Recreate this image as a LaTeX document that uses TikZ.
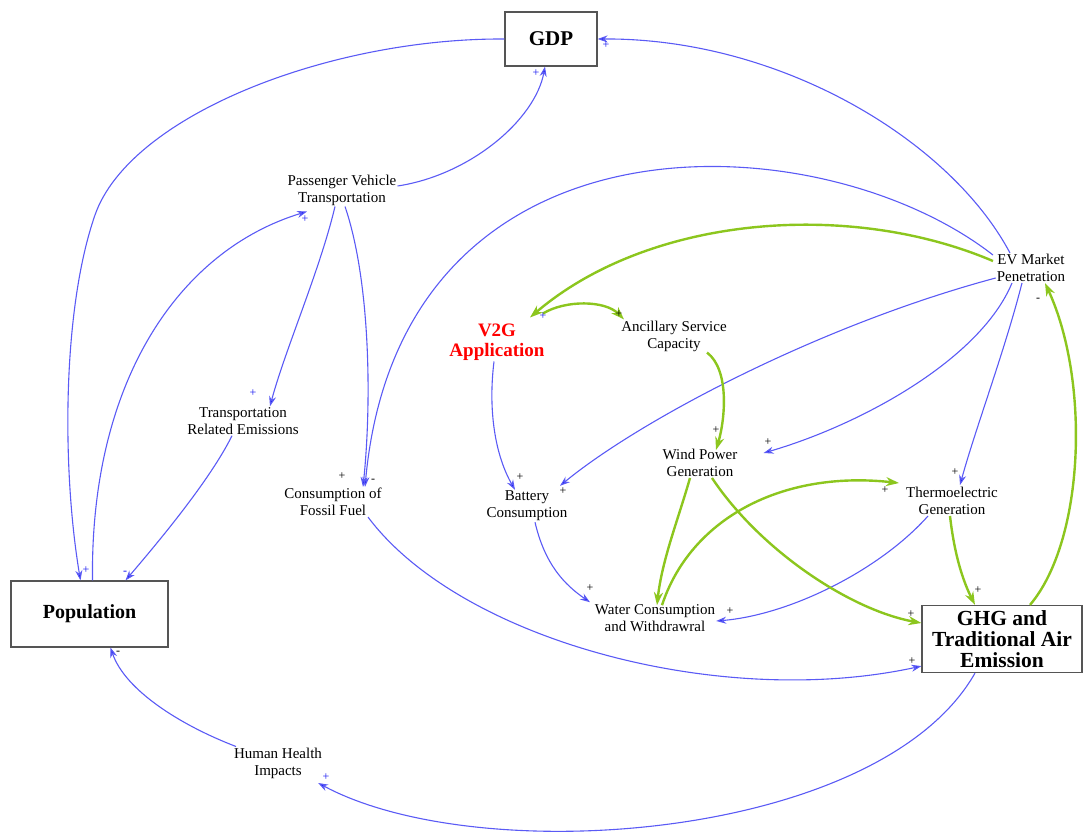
\documentclass[tikz,border=0pt]{standalone}
\usepackage{fontspec}
\setmainfont{Liberation Serif}
\usetikzlibrary{arrows.meta}
\definecolor{lnblue}{RGB}{90,90,245}
\definecolor{tipblue}{RGB}{20,20,240}
\definecolor{lngreen}{RGB}{140,198,30}
\definecolor{boxgray}{RGB}{85,85,85}
\tikzset{
  var/.style={align=center,inner sep=1pt,font=\fontsize{15}{17}\selectfont},
  stock/.style={draw=boxgray,line width=1.2pt,align=center,inner sep=0pt,font=\bfseries\fontsize{20}{21}\selectfont},
  blink/.style={draw=lnblue,line width=1.1pt,-{Stealth[length=10pt,width=7pt,fill=tipblue]}},
  glink/.style={draw=lngreen,line width=2.4pt,-{Stealth[length=13pt,width=9pt]}},
  pol/.style={inner sep=0pt,font=\fontsize{12}{12}\selectfont},
  bpol/.style={pol,text=tipblue}
}
\begin{document}
\begin{tikzpicture}[x=1pt,y=-1pt]
\useasboundingbox (0,0) rectangle (1088,836);
% stocks
\node[stock,minimum width=92pt,minimum height=54pt,font=\bfseries\fontsize{21}{22}\selectfont] (gdp) at (551,39) {GDP};
\node[stock,minimum width=157pt,minimum height=66pt] (pop) at (89.5,614) {Population};
\node[stock,minimum width=160pt,minimum height=67pt,font=\bfseries\fontsize{21.5}{21}\selectfont] (ghg) at (1002,639) {GHG and\\Traditional Air\\Emission};
% variables
\node[var] (pv) at (342,190) {Passenger Vehicle\\Transportation};
\node[var] (tre) at (243,421) {Transportation\\Related Emissions};
\node[var] (ff) at (333,502) {Consumption of\\Fossil Fuel};
\node[var,text=red,font=\bfseries\fontsize{19}{20}\selectfont] (v2g) at (497,342) {V2G\\Application};
\node[var] (anc) at (674,336) {Ancillary Service\\Capacity};
\node[var] (ev) at (1031,268) {EV Market\\Penetration};
\node[var] (wind) at (700,463) {Wind Power\\Generation};
\node[var] (bat) at (527,506) {Battery\\Consumption};
\node[var] (thermo) at (952,501) {Thermoelectric\\Generation};
\node[var] (water) at (655,618) {Water Consumption\\and Withdrawral};
\node[var] (hh) at (278,763) {Human Health\\Impacts};
% blue links
\draw[blink] (gdp.west) .. controls (330,38) and (130,115) .. (95,215) .. controls (62,310) and (62,470) .. ([xshift=-9pt]pop.north);
\draw[blink] ([xshift=3pt]pop.north) .. controls (90,380) and (180,250) .. ([xshift=-35pt,yshift=-5pt]pv.south);
\draw[blink] ([yshift=4pt]pv.east) .. controls (470,175) and (535,120) .. ([xshift=-6pt]gdp.south);
\draw[blink] ([xshift=-7pt]pv.south) .. controls (320,270) and (285,350) .. ([xshift=27pt]tre.north);
\draw[blink] ([xshift=3pt]pv.south) .. controls (370,280) and (372,400) .. ([xshift=30pt]ff.north);
\draw[blink] ([xshift=-11pt]tre.south) .. controls (210,480) and (160,540) .. ([xshift=36pt]pop.north);
\draw[blink] ([xshift=-38pt,yshift=-2pt]ev.north) .. controls (820,120) and (400,100) .. ([xshift=32pt]ff.north);
\draw[blink] ([xshift=-21pt]ev.north) .. controls (950,140) and (780,38) .. (gdp.east);
\draw[blink] ([yshift=-10pt]ev.west) .. controls (820,325) and (640,420) .. ([xshift=33pt,yshift=4pt]bat.north);
\draw[blink] ([xshift=-19pt]ev.south) .. controls (980,360) and (860,425) .. ([xshift=25pt,yshift=10pt]wind.east);
\draw[blink] ([xshift=-9pt]ev.south) .. controls (1005,350) and (975,430) .. ([xshift=8pt,yshift=1pt]thermo.north);
\draw[blink] ([xshift=-3pt]v2g.south) .. controls (488,410) and (495,455) .. ([xshift=-12pt]bat.north);
\draw[blink] ([xshift=8pt]bat.south) .. controls (545,565) and (565,585) .. ([xshift=-65pt,yshift=1pt]water.north);
\draw[blink] ([xshift=-24pt]thermo.south) .. controls (880,570) and (790,615) .. ([yshift=-3pt]water.east);
\draw[blink] ([xshift=35pt]ff.south) .. controls (460,640) and (720,710) .. ([yshift=7pt]ghg.south west);
\draw[blink] ([xshift=-27pt]ghg.south) .. controls (880,840) and (480,870) .. ([xshift=-5pt,yshift=-20pt]hh.east);
\draw[blink] ([xshift=-42pt]hh.north) .. controls (180,725) and (125,690) .. ([xshift=21pt]pop.south);
% green links
\draw[glink] ([xshift=-38pt,yshift=-8pt]ev.north) .. controls (850,200) and (650,215) .. ([xshift=33pt,yshift=5pt]v2g.north);
\draw[glink] ([xshift=46pt,yshift=9pt]v2g.north) .. controls (565,300) and (605,300) .. ([xshift=-50pt]anc.north);
\draw[glink] ([xshift=33pt]anc.south) .. controls (730,370) and (725,420) .. ([xshift=16pt,yshift=-2pt]wind.north);
\draw[glink] ([xshift=-10pt]wind.south) .. controls (678,520) and (662,560) .. ([xshift=2pt,yshift=-2pt]water.north);
\draw[glink] ([xshift=12pt]wind.south) .. controls (760,550) and (850,610) .. ([yshift=16pt]ghg.west);
\draw[glink] ([xshift=7pt,yshift=-2pt]water.north) .. controls (690,520) and (780,470) .. ([xshift=-6pt,yshift=18pt]thermo.west);
\draw[glink] ([xshift=-2pt]thermo.south) .. controls (955,560) and (965,585) .. ([xshift=-27pt]ghg.north);
\draw[glink] ([xshift=28pt]ghg.north) .. controls (1085,540) and (1090,380) .. ([xshift=14pt]ev.south);
% polarities
\node[bpol] at (536,73) {+};
\node[bpol] at (606,45) {+};
\node[bpol] at (305,219) {+};
\node[bpol] at (253,393) {+};
\node[pol] at (342,476) {+};
\node[pol] at (373,481) {-};
\node[bpol] at (86,570) {+};
\node[bpol] at (125,573) {-};
\node[pol] at (118,653) {-};
\node[bpol] at (326,777) {+};
\node[bpol] at (543,316) {+};
\node[pol] at (619,314) {+};
\node[pol] at (716,430) {+};
\node[pol] at (768,442) {+};
\node[pol] at (520,477) {+};
\node[pol] at (563,491) {+};
\node[pol] at (955,472) {+};
\node[pol] at (885,490) {+};
\node[pol] at (590,588) {+};
\node[pol] at (730,611) {+};
\node[pol] at (978,590) {+};
\node[pol] at (911,614) {+};
\node[pol] at (912,661) {+};
\node[pol] at (1038,300) {-};
\end{tikzpicture}
\end{document}
